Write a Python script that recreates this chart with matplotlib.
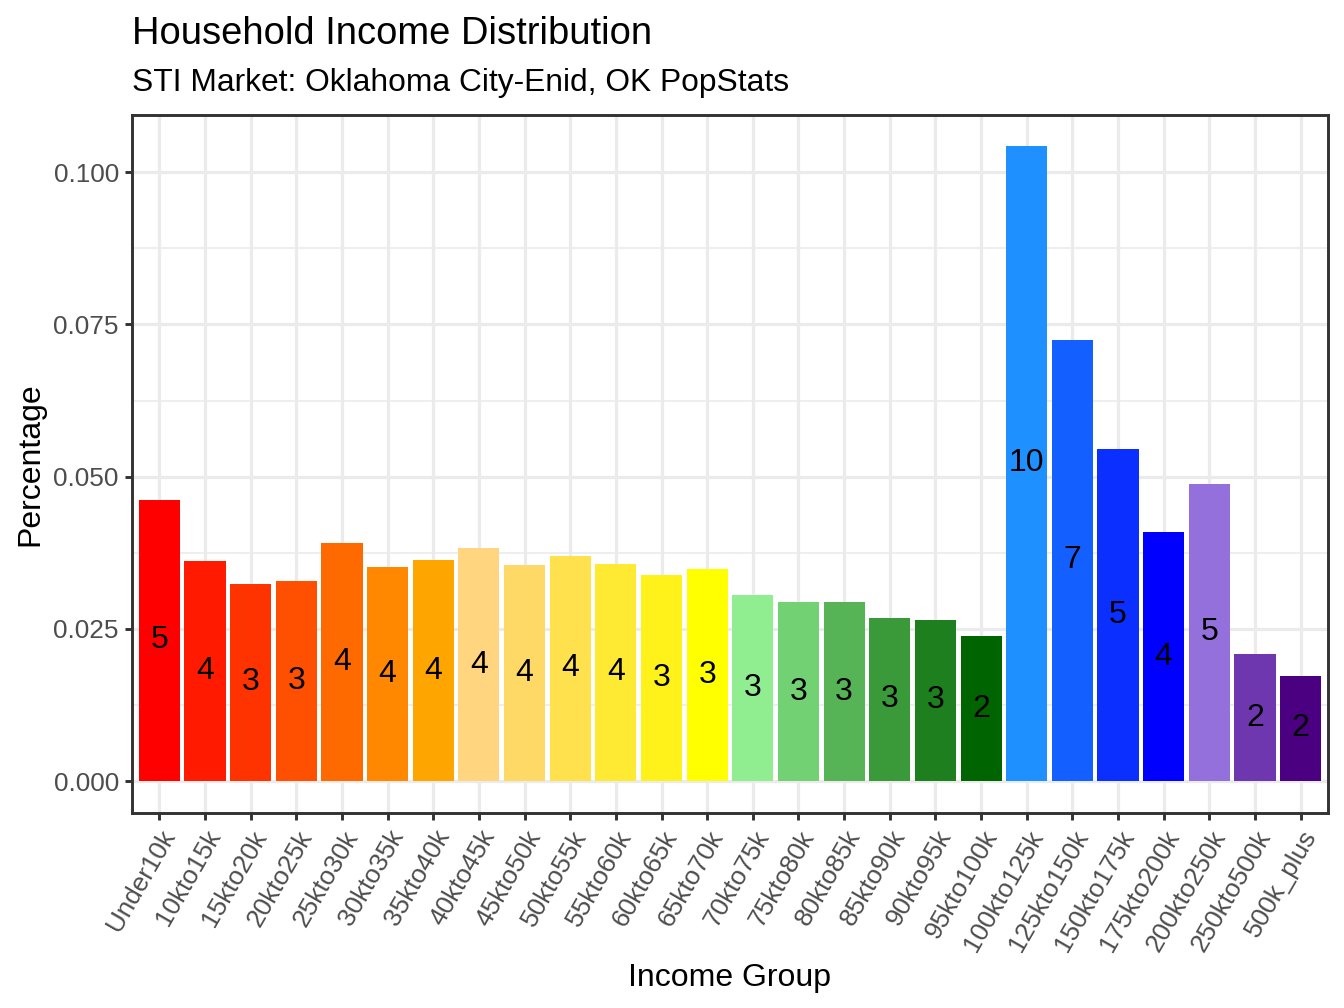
import matplotlib
matplotlib.use("Agg")
import matplotlib.pyplot as plt
import numpy as np

plt.rcParams['font.family'] = ['Liberation Sans', 'DejaVu Sans']

categories = ["Under10k", "10kto15k", "15kto20k", "20kto25k", "25kto30k", "30kto35k",
              "35kto40k", "40kto45k", "45kto50k", "50kto55k", "55kto60k", "60kto65k",
              "65kto70k", "70kto75k", "75kto80k", "80kto85k", "85kto90k", "90kto95k",
              "95kto100k", "100kto125k", "125kto150k", "150kto175k", "175kto200k",
              "200kto250k", "250kto500k", "500k_plus"]
percentages = [0.0462, 0.0362, 0.0324, 0.0329, 0.0391, 0.0352, 0.0363, 0.0382, 0.0355,
               0.0370, 0.0357, 0.0339, 0.0348, 0.0306, 0.0294, 0.0294, 0.0268, 0.0265,
               0.0238, 0.1044, 0.0725, 0.0545, 0.0409, 0.0488, 0.0208, 0.0173]
bar_labels = ["5", "4", "3", "3", "4", "4", "4", "4", "4", "4", "4", "3", "3", "3", "3",
              "3", "3", "3", "2", "10", "7", "5", "4", "5", "2", "2"]
colors = ["#FF0000", "#FF1A00", "#FF3300", "#FF4F00", "#FF6A00", "#FF8800", "#FFA500",
          "#FFD580", "#FFD966", "#FFE14D", "#FFEA33", "#FFF21A", "#FFFF00",
          "#90EE90", "#72D172", "#56B356", "#3A9A3A", "#1E7F1E", "#006400",
          "#1E90FF", "#145FFF", "#0A2FFF", "#0000FF", "#9370DB", "#6F37AF", "#4B0082"]
y_ticks = [0, 0.025, 0.05, 0.075, 0.1]
y_ticklabels = ["0.000", "0.025", "0.050", "0.075", "0.100"]

W, H = 1344, 1008
dpi = 192
fig = plt.figure(figsize=(W / dpi, H / dpi), dpi=dpi)
L, R, T, B = 132, 1328, 115, 813
ax = fig.add_axes([L / W, 1 - B / H, (R - L) / W, (B - T) / H])

x = np.arange(len(categories))
ax.bar(x, percentages, width=0.9, color=colors, zorder=3)
for xi, v, lab in zip(x, percentages, bar_labels):
    ax.text(xi, v / 2, lab, ha='center', va='center', fontsize=12, color='black', zorder=4)

ymax = max(percentages)
ax.set_xlim(-0.6, len(categories) - 0.4)
ax.set_ylim(-0.0503 * ymax, ymax * 1.048)

ax.set_yticks(y_ticks)
ax.set_yticklabels(y_ticklabels)
ax.set_yticks([0.0125, 0.0375, 0.0625, 0.0875], minor=True)
ax.set_xticks(x)
ax.set_xticklabels(categories, rotation=60, ha='right', va='top', rotation_mode='anchor')

ax.grid(which='major', color='#EBEBEB', linewidth=1.2, zorder=0)
ax.grid(which='minor', axis='y', color='#EBEBEB', linewidth=0.6, zorder=0)
ax.set_axisbelow(True)
ax.tick_params(which='major', length=2.75, width=1.1, color='#333333',
               labelsize=9.8, labelcolor='#4D4D4D', pad=2.2)
ax.tick_params(which='minor', length=0)
for s in ax.spines.values():
    s.set_color('#333333')
    s.set_linewidth(1.1)

ax.set_xlabel("Income Group", fontsize=12, color='black', labelpad=3)
ax.set_ylabel("Percentage", fontsize=12, color='black', labelpad=3)

fig.text(L / W, 1 - 44 / H, "Household Income Distribution", fontsize=14.3,
         ha='left', va='baseline', color='black')
fig.text(L / W, 1 - 91 / H, "STI Market: Oklahoma City-Enid, OK PopStats", fontsize=11.9,
         ha='left', va='baseline', color='black')

fig.savefig("out.png", dpi=dpi)
